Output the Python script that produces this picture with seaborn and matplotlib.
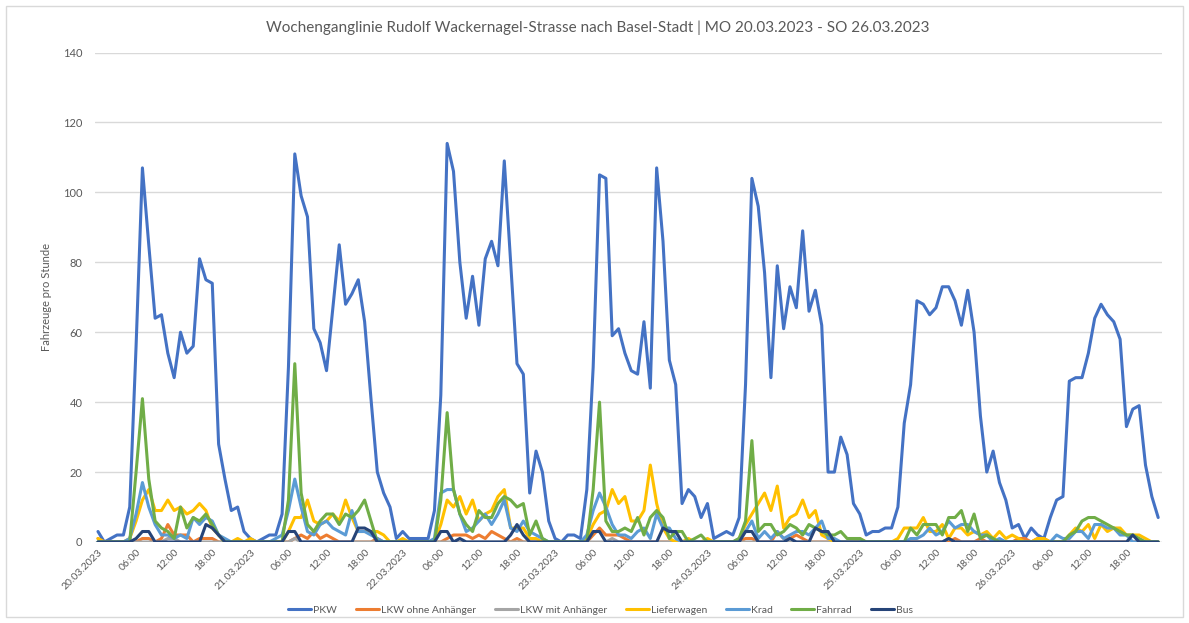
import matplotlib
matplotlib.use("Agg")
import matplotlib.pyplot as plt
from matplotlib.lines import Line2D
from matplotlib.patches import Rectangle
import seaborn as sns
import pandas as pd
import numpy as np

# ---------------- data (hourly values, Mon 20.03.2023 00:00 - Sun 26.03.2023 23:00) ----------------
days = ["20.03.2023", "21.03.2023", "22.03.2023", "23.03.2023",
        "24.03.2023", "25.03.2023", "26.03.2023"]
times = ["06:00", "12:00", "18:00"]
series_names = ["PKW", "LKW ohne Anhänger", "LKW mit Anhänger",
                "Lieferwagen", "Krad", "Fahrrad", "Bus"]

pkw = [
    3, 0, 1, 2, 2, 10, 56, 107, 85, 64, 65, 54, 47, 60, 54, 56, 81, 75, 74, 28, 18, 9, 10, 3,
    1, 0, 1, 2, 2, 8, 50, 111, 99, 93, 61, 57, 49, 67, 85, 68, 71, 75, 63, 41, 20, 14, 10, 1,
    3, 1, 1, 1, 1, 9, 42, 114, 106, 80, 64, 76, 62, 81, 86, 79, 109, 80, 51, 48, 14, 26, 20, 6,
    1, 0, 2, 2, 1, 15, 50, 105, 104, 59, 61, 54, 49, 48, 63, 44, 107, 86, 52, 45, 11, 15, 13, 7,
    11, 1, 2, 3, 2, 7, 45, 104, 96, 77, 47, 79, 61, 73, 67, 89, 66, 72, 62, 20, 20, 30, 25, 11,
    8, 2, 3, 3, 4, 4, 10, 34, 45, 69, 68, 65, 67, 73, 73, 69, 62, 72, 60, 36, 20, 26, 17, 12,
    4, 5, 1, 4, 2, 1, 7, 12, 13, 46, 47, 47, 54, 64, 68, 65, 63, 58, 33, 38, 39, 22, 13, 7,
]
lkw_ohne = [
    1, 0, 0, 0, 0, 0, 0, 1, 1, 0, 1, 5, 2, 2, 2, 0, 1, 1, 1, 0, 0, 0, 0, 0,
    0, 0, 0, 0, 0, 0, 0, 1, 2, 1, 3, 1, 2, 1, 0, 0, 0, 0, 0, 0, 1, 0, 0, 0,
    0, 0, 0, 0, 0, 0, 0, 1, 2, 2, 2, 1, 2, 1, 3, 2, 1, 0, 1, 0, 0, 0, 0, 0,
    0, 0, 0, 0, 0, 0, 2, 4, 2, 2, 2, 1, 0, 0, 0, 0, 0, 0, 0, 0, 0, 0, 0, 0,
    0, 0, 0, 0, 0, 0, 1, 1, 0, 0, 0, 3, 1, 1, 2, 1, 0, 0, 0, 0, 0, 0, 0, 0,
    0, 0, 0, 0, 0, 0, 0, 0, 0, 0, 0, 0, 0, 0, 0, 1, 0, 0, 0, 1, 0, 0, 0, 0,
    0, 1, 1, 0, 1, 1, 0, 0, 0, 0, 0, 0, 0, 0, 0, 0, 0, 0, 0, 0, 0, 0, 0, 0,
]
lkw_mit = [
    0, 0, 0, 0, 0, 0, 0, 0, 0, 0, 0, 1, 1, 0, 0, 0, 0, 0, 0, 0, 0, 0, 0, 0,
    0, 0, 0, 0, 0, 0, 0, 1, 0, 0, 0, 0, 0, 0, 0, 0, 0, 0, 0, 0, 0, 0, 0, 0,
    0, 0, 0, 0, 0, 0, 0, 0, 0, 0, 0, 0, 0, 0, 0, 0, 0, 0, 0, 0, 0, 0, 0, 0,
    0, 0, 0, 0, 0, 0, 0, 0, 0, 1, 0, 0, 0, 0, 0, 0, 0, 0, 0, 0, 0, 0, 0, 0,
    0, 0, 0, 0, 0, 0, 0, 0, 0, 0, 0, 0, 0, 0, 0, 0, 0, 0, 0, 0, 0, 0, 0, 0,
    0, 0, 0, 0, 0, 0, 0, 0, 0, 0, 0, 0, 0, 0, 1, 0, 0, 0, 0, 0, 0, 0, 0, 0,
    0, 0, 0, 0, 0, 0, 0, 0, 0, 0, 0, 0, 0, 0, 0, 0, 0, 0, 0, 0, 0, 0, 0, 0,
]
lieferwagen = [
    1, 0, 0, 0, 0, 1, 6, 12, 15, 9, 9, 12, 9, 10, 8, 9, 11, 9, 4, 2, 0, 0, 1, 0,
    1, 0, 0, 0, 0, 0, 3, 7, 7, 12, 6, 5, 6, 8, 6, 12, 7, 3, 3, 3, 3, 2, 0, 0,
    1, 0, 0, 0, 0, 0, 5, 12, 10, 13, 8, 12, 6, 8, 9, 13, 15, 4, 4, 4, 1, 1, 0, 0,
    0, 0, 0, 0, 0, 1, 5, 8, 9, 15, 11, 13, 6, 6, 9, 22, 11, 4, 1, 0, 0, 1, 0, 0,
    1, 0, 0, 0, 0, 1, 5, 8, 11, 14, 9, 16, 4, 7, 8, 12, 7, 9, 2, 1, 0, 0, 0, 0,
    1, 0, 0, 0, 0, 0, 1, 4, 4, 4, 7, 3, 3, 5, 1, 4, 4, 2, 3, 2, 3, 1, 3, 1,
    2, 1, 0, 0, 1, 1, 0, 0, 0, 2, 4, 3, 5, 1, 5, 3, 4, 4, 2, 2, 2, 1, 0, 0,
]
krad = [
    0, 0, 0, 0, 0, 1, 8, 17, 10, 5, 2, 2, 1, 2, 1, 7, 5, 7, 6, 2, 1, 0, 0, 0,
    0, 0, 0, 0, 1, 2, 9, 18, 10, 3, 2, 5, 6, 4, 3, 2, 9, 3, 3, 2, 1, 0, 0, 0,
    0, 0, 0, 0, 0, 1, 14, 15, 15, 8, 3, 4, 6, 8, 5, 8, 12, 4, 3, 6, 3, 2, 1, 0,
    0, 0, 0, 0, 0, 2, 9, 14, 10, 5, 2, 2, 1, 3, 4, 1, 8, 4, 4, 1, 0, 0, 0, 0,
    0, 0, 0, 0, 0, 1, 3, 6, 1, 3, 1, 3, 1, 2, 3, 3, 2, 4, 6, 1, 1, 0, 0, 0,
    0, 0, 0, 0, 0, 0, 0, 0, 1, 1, 2, 4, 2, 3, 6, 4, 5, 5, 3, 2, 2, 0, 1, 0,
    0, 0, 0, 0, 0, 0, 0, 2, 1, 1, 3, 3, 1, 5, 5, 4, 4, 2, 2, 0, 0, 0, 0, 0,
]
fahrrad = [
    0, 0, 0, 0, 0, 0, 20, 41, 18, 6, 4, 3, 1, 10, 4, 7, 6, 8, 5, 2, 0, 0, 0, 0,
    0, 0, 0, 0, 0, 0, 12, 51, 14, 5, 3, 6, 8, 8, 5, 8, 7, 9, 12, 6, 0, 0, 0, 0,
    0, 0, 0, 0, 0, 0, 12, 37, 15, 8, 5, 3, 9, 7, 7, 11, 13, 12, 10, 11, 2, 6, 1, 0,
    0, 0, 0, 0, 0, 0, 15, 40, 6, 3, 3, 4, 3, 7, 2, 7, 9, 7, 1, 3, 3, 0, 1, 2,
    0, 0, 0, 0, 0, 1, 6, 29, 3, 5, 5, 2, 3, 5, 4, 2, 5, 4, 3, 2, 2, 3, 1, 1,
    1, 0, 0, 0, 0, 0, 0, 0, 4, 2, 5, 5, 5, 2, 7, 7, 9, 3, 8, 1, 2, 1, 0, 0,
    0, 0, 0, 0, 0, 0, 0, 0, 0, 2, 3, 6, 7, 7, 6, 5, 4, 3, 2, 2, 1, 0, 0, 0,
]
bus = [
    0, 0, 0, 0, 0, 0, 1, 3, 3, 0, 0, 0, 0, 0, 0, 0, 0, 5, 4, 2, 0, 0, 0, 0,
    0, 0, 0, 0, 0, 0, 3, 3, 0, 0, 0, 0, 0, 0, 0, 0, 0, 4, 4, 3, 0, 0, 0, 0,
    0, 0, 0, 0, 0, 0, 3, 3, 0, 1, 0, 0, 0, 0, 0, 0, 0, 2, 5, 2, 0, 0, 0, 0,
    0, 0, 0, 0, 0, 0, 3, 3, 0, 0, 0, 0, 0, 0, 0, 0, 0, 4, 3, 3, 0, 0, 0, 0,
    0, 0, 0, 0, 0, 0, 3, 3, 0, 0, 0, 0, 0, 1, 0, 0, 0, 4, 3, 3, 0, 0, 0, 0,
    0, 0, 0, 0, 0, 0, 0, 0, 0, 0, 0, 0, 0, 0, 1, 0, 0, 0, 0, 0, 0, 0, 0, 0,
    0, 0, 0, 0, 0, 0, 0, 0, 0, 0, 0, 0, 0, 0, 0, 0, 0, 0, 0, 2, 0, 0, 0, 0,
]

colors = ["#4472C4", "#ED7D31", "#A5A5A5", "#FFC000", "#5B9BD5", "#70AD47", "#264478"]
title = ("Wochenganglinie Rudolf Wackernagel-Strasse nach Basel-Stadt | "
         "MO 20.03.2023 - SO 26.03.2023")

# ---------------- build long table ----------------
all_series = [pkw, lkw_ohne, lkw_mit, lieferwagen, krad, fahrrad, bus]
frames = []
for name, vals in zip(series_names, all_series):
    frames.append(pd.DataFrame({"Stunde": np.arange(len(vals)),
                                "Anzahl": vals, "Typ": name}))
df = pd.concat(frames, ignore_index=True)

tick_labels = []
for d in days:
    tick_labels.append(d)
    tick_labels.extend(times)
tick_pos = np.arange(0, 24 * len(days), 6)

# ---------------- plot ----------------
sns.set_theme(style="white")
plt.rcParams["font.family"] = ["Lato", "DejaVu Sans"]
text_col = "#595959"

W, H = 1189, 623
fig = plt.figure(figsize=(W / 100, H / 100), dpi=100)
ax = fig.add_axes([95 / W, (H - 542) / H, (1162 - 95) / W, (542 - 52.5) / H])

sns.lineplot(data=df, x="Stunde", y="Anzahl", hue="Typ", hue_order=series_names,
             palette=colors, linewidth=2.2, legend=False, ax=ax, zorder=3)

ax.set_xlim(-0.47, 167.6)
ax.set_ylim(0, 140)
ax.set_yticks(range(0, 141, 20))
ax.set_xticks(tick_pos)
ax.set_xticklabels(tick_labels, rotation=45, ha="right", rotation_mode="anchor",
                   fontsize=7.5, color=text_col)
ax.tick_params(axis="y", labelsize=8, labelcolor=text_col, length=0, pad=9)
ax.tick_params(axis="x", length=0, pad=4)
ax.yaxis.grid(True, color="#D9D9D9", linewidth=1)
ax.set_axisbelow(True)
for s in ax.spines.values():
    s.set_visible(False)
ax.axhline(0, color="#D9D9D9", linewidth=1, zorder=1)
ax.set_xlabel("")
ax.set_ylabel("Fahrzeuge pro Stunde", fontsize=8, color=text_col, labelpad=8)

fig.text(0.503, 1 - 28 / H, title, ha="center", va="center", fontsize=11, color=text_col)

handles = [Line2D([0], [0], color=c, lw=2.2) for c in colors]
fig.legend(handles, series_names, loc="center", bbox_to_anchor=(0.505, 1 - 610 / H),
           ncol=7, frameon=False, fontsize=7.5, handlelength=2.2, handletextpad=0.2,
           columnspacing=1.8, labelcolor=text_col)

fig.add_artist(Rectangle((6 / W, 6 / H), (W - 12) / W, (H - 12) / H,
                         transform=fig.transFigure, fill=False,
                         edgecolor="#D9D9D9", linewidth=1))

fig.savefig("out.png", dpi=100)
